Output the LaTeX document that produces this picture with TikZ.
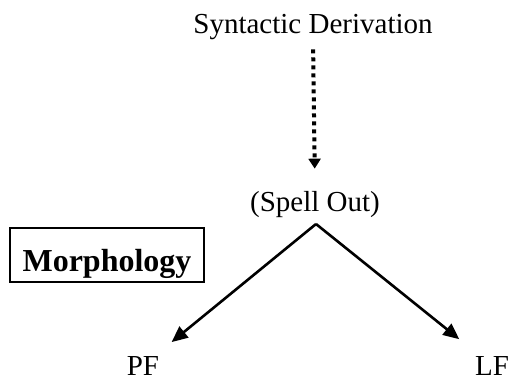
\documentclass[tikz,border=0pt]{standalone}
\usepackage{fontspec}
\setmainfont{Liberation Serif}
\usetikzlibrary{arrows.meta}
\begin{document}
\begin{tikzpicture}[x=1pt,y=-1pt,
  label/.style={inner sep=0pt, anchor=base, font=\fontsize{29}{34}\selectfont},
  boxlabel/.style={draw, line width=2.2pt, inner sep=0pt, anchor=base,
    text height=43.5pt, text depth=10.5pt, minimum width=194pt,
    font=\fontsize{32}{38}\selectfont\bfseries},
  branch/.style={line width=2.6pt, -{Triangle[length=16pt,width=14pt]}},
  dotarrow/.style={line width=4pt, dash pattern=on 4pt off 4pt,
    -{Triangle[length=10pt,width=12pt]}}]
  \useasboundingbox (0,0) rectangle (512,380);

  % labels
  \node[label] (sd) at (313,33) {Syntactic Derivation};
  \node[label] (so) at (315,211) {(Spell Out)};
  \node[label] (pf) at (143,375) {PF};
  \node[label] (lf) at (492,375) {LF};
  \node[boxlabel] (morph) at (107,271.5) {Morphology};

  % derivation reaches Spell Out
  \draw[dotarrow, shorten <=10pt, shorten >=22pt] (sd.south) -- (so.north);

  % split into the two interfaces
  \coordinate (apex) at (316,224);
  \draw[branch, shorten >=37pt] (apex) -- (pf.center);
  \draw[branch, shorten >=42pt] (apex) -- (lf.center);
\end{tikzpicture}
\end{document}
